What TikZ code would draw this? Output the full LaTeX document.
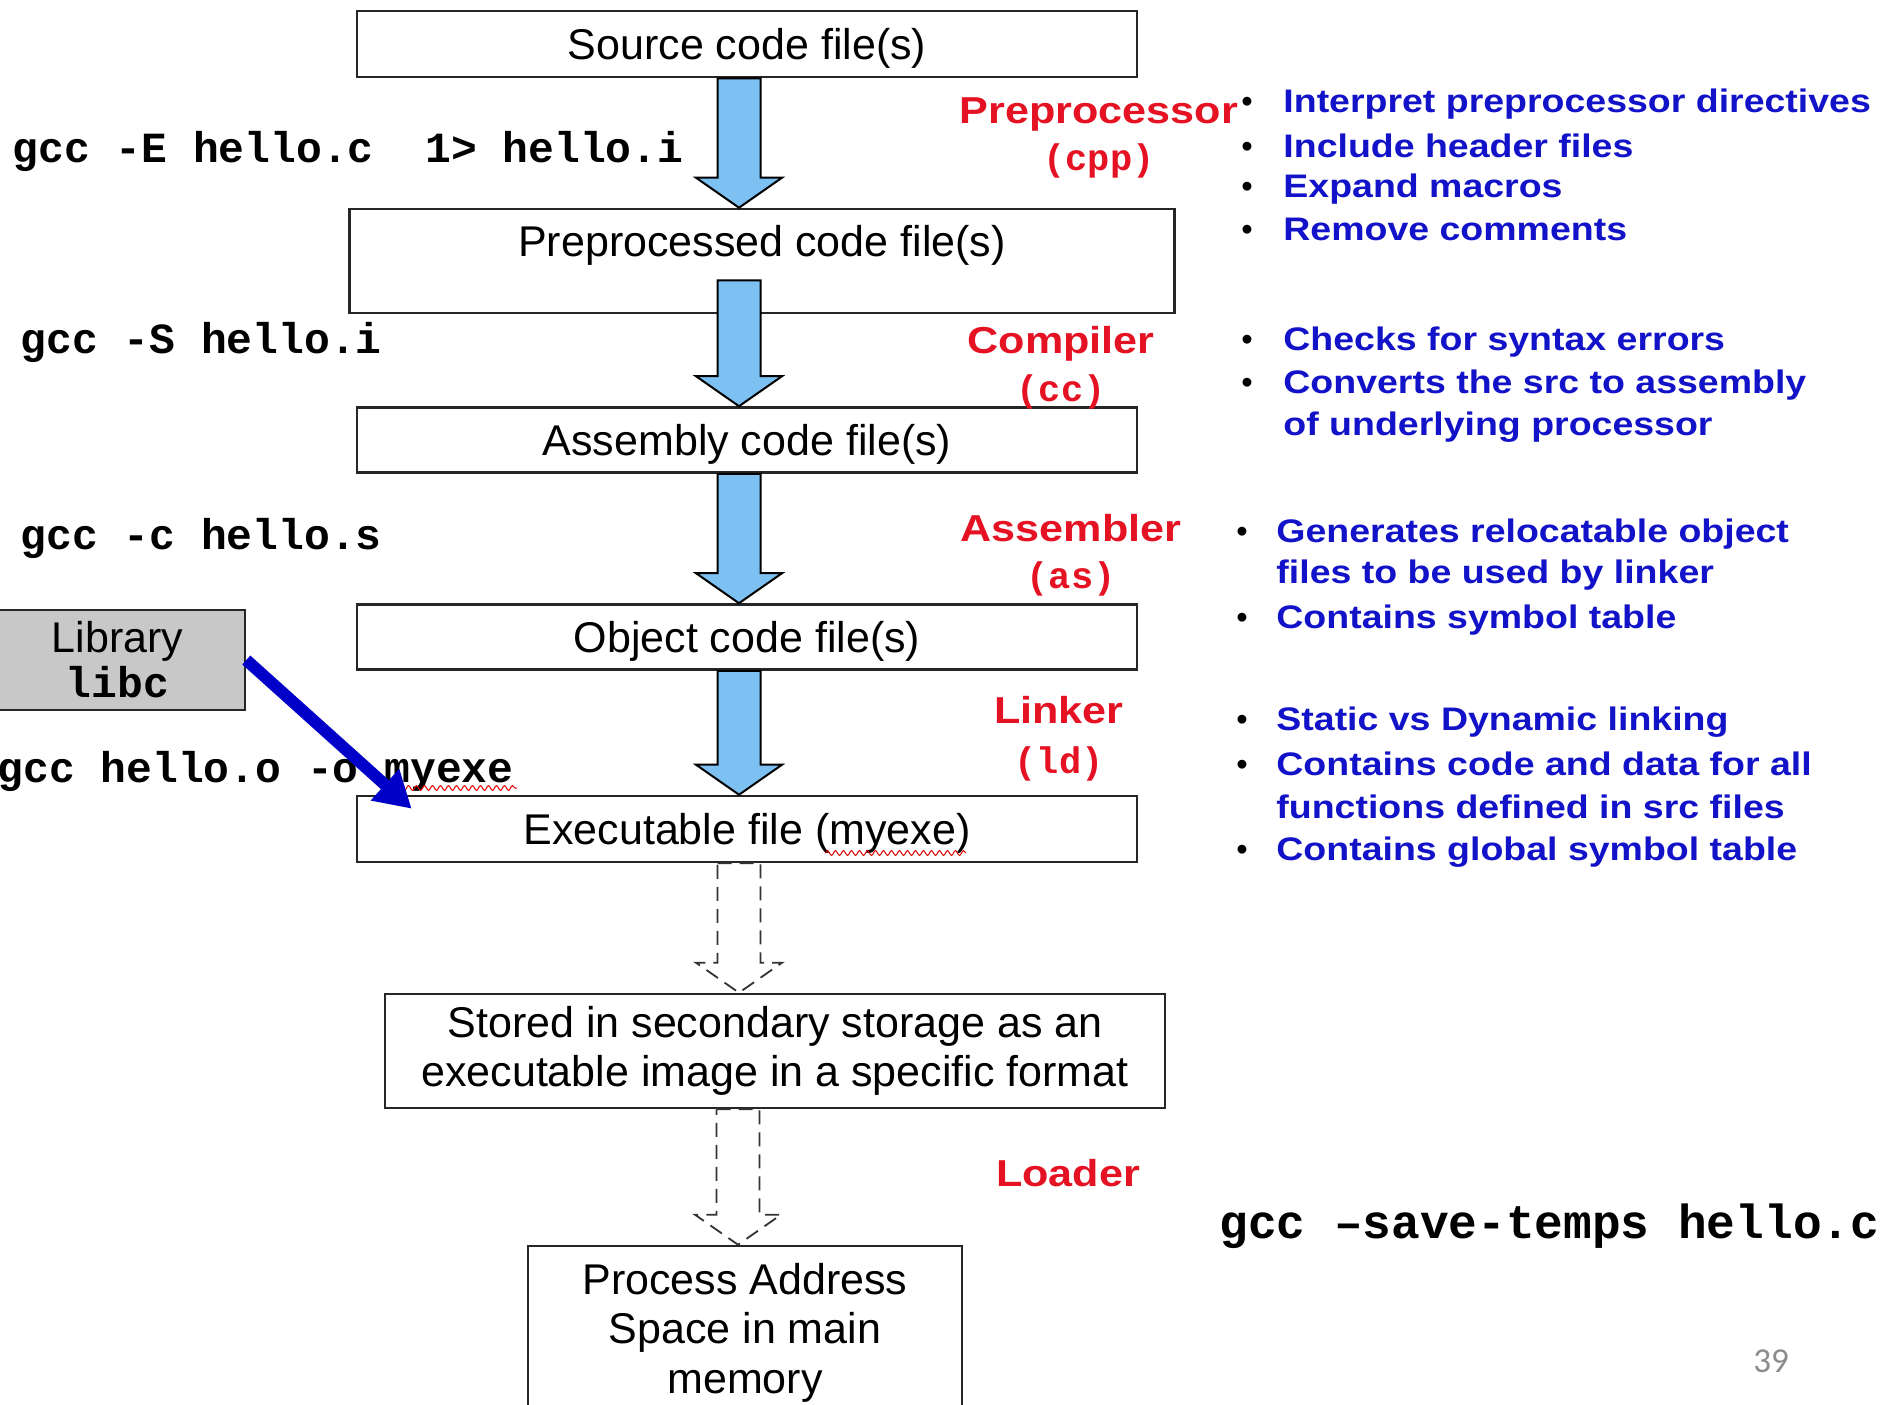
\documentclass[tikz,border=0pt]{standalone}
\usepackage{fontspec}
\setmainfont{Liberation Sans}
\newfontfamily\monof{Liberation Mono}
\newfontfamily\labf{Liberation Sans}[FakeStretch=1.15]
\newfontfamily\pagef{Carlito}
\usetikzlibrary{arrows.meta,calc,decorations.pathmorphing}
\definecolor{arrblue}{RGB}{125,192,242}
\definecolor{redlab}{RGB}{228,18,34}
\definecolor{bluelab}{RGB}{18,18,200}
\definecolor{libblue}{RGB}{0,0,200}
\definecolor{libgray}{RGB}{200,200,200}
\newcommand\blockarr[3]{%
  \draw[#1] let \p1=(#2), \p2=(#3) in
    (\x2-10.75pt,\y1) -- (\x2+10.75pt,\y1) -- (\x2+10.75pt,\y2+15pt) --
    (\x2+21.5pt,\y2+15pt) -- (\x2,\y2) -- (\x2-21.5pt,\y2+15pt) --
    (\x2-10.75pt,\y2+15pt) -- cycle;}
\begin{document}
\begin{tikzpicture}[x=0.5pt,y=-0.5pt,
  box/.style={draw=black!85, line width=1.3pt, fill=white, inner sep=0pt, align=center, font={\fontsize{21.5}{24.75}\selectfont}},
  onebox/.style={box, text depth=0pt},
  boxtxt/.style={inner sep=0pt, align=center, font={\fontsize{21.5}{24.75}\selectfont}},
  cmd/.style={anchor=base west, inner sep=0pt, font={\monof\bfseries\fontsize{21.5}{24}\selectfont}},
  redl/.style={anchor=base, inner sep=0pt, text=redlab, font={\labf\bfseries\fontsize{18.75}{22}\selectfont}},
  redm/.style={anchor=base, inner sep=0pt, text=redlab, font={\monof\bfseries\fontsize{18.5}{20}\selectfont}},
  blu/.style={anchor=base west, inner sep=0pt, text=bluelab, font={\labf\bfseries\fontsize{16.3}{19}\selectfont}},
  bul/.style={anchor=base, inner sep=0pt, font={\fontsize{16.3}{19}\selectfont}},
  solidarrow/.style={draw=black, line width=1pt, fill=arrblue},
  dasharrow/.style={draw=black!80, line width=0.9pt, fill=white, dash pattern=on 7pt off 4pt},
  libarrow/.style={draw=libblue, line width=6pt, -{Triangle[length=18pt,width=20pt]}},
  squig/.style={draw=red!85!black, line width=0.5pt, decorate, decoration={snake, amplitude=1.2pt, segment length=4pt}}
]
\fill[white] (0,0) rectangle (1893,1404);
\useasboundingbox (0,0) rectangle (1893,1404);

% boxes
\node[onebox, minimum width=390pt, minimum height=33pt] (src) at (747,44) {Source code file(s)};
\node[box, minimum width=412.5pt, minimum height=52pt] (pre) at (762,261) {};
\node[boxtxt, anchor=base] (pretxt) at ($(pre.north)+(0,49)$) {Preprocessed code file(s)};
\node[onebox, minimum width=390pt, minimum height=32.5pt] (asm) at (747,440) {Assembly code file(s)};
\node[onebox, minimum width=390pt, minimum height=32.5pt] (obj) at (747,637) {Object code file(s)};
\node[onebox, minimum width=390pt, minimum height=33pt] (exe) at (747,829) {Executable file (myexe)};
\node[box, minimum width=390pt, minimum height=57pt] (sto) at (775,1051) {Stored in secondary storage as an\\executable image in a specific format};
\node[box, minimum width=217pt, minimum height=100pt] (proc) at (745,1346) {};
\node[boxtxt] (proctxt) at ($(proc.north)+(0,88)$) {Process Address\\Space in main\\memory};
\node[draw=black!85, line width=1.3pt, fill=libgray, minimum width=127.5pt, minimum height=50pt, align=center, inner sep=0pt, font={\fontsize{21.5}{22.5}\selectfont}] (lib) at (117.5,660) {Library\\{\monof\bfseries libc}};

% block arrows
\coordinate (a1t) at ($(src.south)+(-8,0)$);
\coordinate (a1b) at (pre.north -| a1t);
\coordinate (a2t) at ($(pre.south)+(-23,-34)$);
\coordinate (a2b) at (asm.north -| a2t);
\coordinate (a3t) at ($(asm.south)+(-8,0)$);
\coordinate (a3b) at (obj.north -| a3t);
\coordinate (a4t) at ($(obj.south)+(-8,0)$);
\coordinate (a4b) at (exe.north -| a4t);
\coordinate (a5t) at ($(exe.south)+(-8,0)$);
\coordinate (a5b) at (sto.north -| a5t);
\coordinate (a6t) at ($(sto.south)+(-37,0)$);
\coordinate (a6b) at (proc.north -| a6t);
\blockarr{solidarrow}{a1t}{a1b}
\blockarr{solidarrow}{a2t}{a2b}
\blockarr{solidarrow}{a3t}{a3b}
\blockarr{solidarrow}{a4t}{a4b}
\blockarr{dasharrow}{a5t}{a5b}
\blockarr{dasharrow}{a6t}{a6b}

% commands
\node[cmd] (cE) at (12,162) {gcc -E hello.c\ \ 1> hello.i};
\node[cmd] (cS) at (20,353) {gcc -S hello.i};
\node[cmd] (cc) at (20,549) {gcc -c hello.s};
\node[cmd] (co) at (-3,782) {gcc hello.o -o myexe};
\node[cmd, font={\monof\bfseries\fontsize{23.9}{26}\selectfont}] (cst) at (1219,1238) {gcc –save-temps hello.c};

% spell-check squiggles
\draw[squig] (825,853) -- (966,853);
\draw[squig] (398,788) -- (517,788);

% library arrow
\coordinate (libtip) at ($(exe.north west)+(56,14)$);
\draw[libarrow] (lib.east) -- (libtip);

% red labels
\node[redl] (lpre) at (1099,123) {Preprocessor};
\node[redm] (lcpp) at (1099,170) {(cpp)};
\node[redl] (lcomp) at (1061,353) {Compiler};
\node[redm] (lcc) at (1061,401) {(cc)};
\node[redl] (lasm) at (1071,541) {Assembler};
\node[redm] (las) at (1071,588) {(as)};
\node[redl] (llink) at (1059,723) {Linker};
\node[redm] (lld) at (1059,773) {(ld)};
\node[redl] (lload) at (1068,1186) {Loader};

% blue bullet lists
\node[bul] (g1ab) at (1247,112) {•};
\node[blu] (g1a) at (1283,112) {Interpret preprocessor directives};
\node[bul] (g1bb) at (1247,157) {•};
\node[blu] (g1b) at (1283,157) {Include header files};
\node[bul] (g1cb) at (1247,197) {•};
\node[blu] (g1c) at (1283,197) {Expand macros};
\node[bul] (g1db) at (1247,240) {•};
\node[blu] (g1d) at (1283,240) {Remove comments};

\node[bul] (g2ab) at (1247,350) {•};
\node[blu] (g2a) at (1283,350) {Checks for syntax errors};
\node[bul] (g2bb) at (1247,393) {•};
\node[blu] (g2b) at (1283,393) {Converts the src to assembly};
\node[blu] (g2c) at (1283,435) {of underlying processor};

\node[bul] (g3ab) at (1242,542) {•};
\node[blu] (g3a) at (1276,542) {Generates relocatable object};
\node[blu] (g3b) at (1276,583) {files to be used by linker};
\node[bul] (g3cb) at (1242,628) {•};
\node[blu] (g3c) at (1276,628) {Contains symbol table};

\node[bul] (g4ab) at (1242,730) {•};
\node[blu] (g4a) at (1276,730) {Static vs Dynamic linking};
\node[bul] (g4bb) at (1242,775) {•};
\node[blu] (g4b) at (1276,775) {Contains code and data for all};
\node[blu] (g4c) at (1276,818) {functions defined in src files};
\node[bul] (g4db) at (1242,860) {•};
\node[blu] (g4d) at (1276,860) {Contains global symbol table};

% page number
\node[inner sep=0pt, text=black!45, font={\pagef\fontsize{17.5}{20}\selectfont}] (pg) at (1771,1361) {39};
\end{tikzpicture}
\end{document}
